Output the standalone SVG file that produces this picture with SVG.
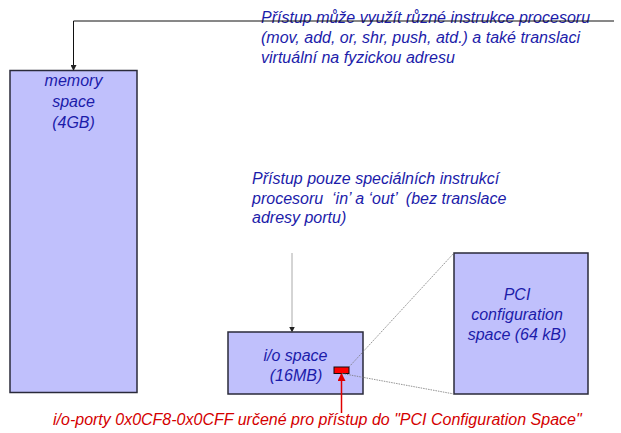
<svg xmlns="http://www.w3.org/2000/svg" width="621" height="433" viewBox="0 0 621 433">
<style>
.box{fill:#c0c0fc;stroke:#2a2a3a;stroke-width:1.5}
.t{font-family:"Liberation Sans",Arial,sans-serif;font-style:italic;font-size:16px;fill:#1c1caa}
.c{text-anchor:middle}
.r{fill:#d40000}
.dot{stroke:#777;stroke-width:0.8;stroke-dasharray:1.5,1;fill:none}
</style>
<defs>
<marker id="ab" markerWidth="6" markerHeight="6" refX="5" refY="3" orient="auto" markerUnits="userSpaceOnUse"><path d="M0,0 L6,3 L0,6 z" fill="#222"/></marker>
<marker id="ar" markerWidth="8" markerHeight="8" refX="7" refY="4" orient="auto" markerUnits="userSpaceOnUse"><path d="M0,0 L8,4 L0,8 z" fill="#e00000"/></marker>
</defs>
<rect width="621" height="433" fill="#fff"/>
<g id="memory">
<rect class="box" x="10" y="70.5" width="127" height="322"/>
<text class="t c" x="73.5" y="86">memory</text>
<text class="t c" x="73.5" y="107">space</text>
<text class="t c" x="73.5" y="128">(4GB)</text>
</g>
<g id="io">
<rect class="box" x="228" y="332" width="135" height="62"/>
<text class="t c" x="295.5" y="361">i/o space</text>
<text class="t c" x="296" y="381">(16MB)</text>
<rect x="334" y="367" width="15" height="6.5" fill="#ff0000" stroke="#111" stroke-width="1"/>
</g>
<g id="pci">
<rect class="box" x="454" y="253" width="134" height="141"/>
<text class="t c" x="517" y="300">PCI</text>
<text class="t c" x="517" y="320">configuration</text>
<text class="t c" x="517" y="340">space (64 kB)</text>
</g>
<g id="labels">
<text class="t" x="261" y="23">Přístup může využít různé instrukce procesoru</text>
<text class="t" x="261" y="43">(mov, add, or, shr, push, atd.) a také translaci</text>
<text class="t" x="261" y="62.5">virtuální na fyzickou adresu</text>
<text class="t" x="252" y="184">Přístup pouze speciálních instrukcí</text>
<text class="t" x="252" y="204" style="white-space:pre">procesoru  ‘in’ a ‘out’  (bez translace</text>
<text class="t" x="252" y="223">adresy portu)</text>
<text class="t r" x="53" y="425">i/o-porty 0x0CF8-0x0CFF určené pro přístup do "PCI Configuration Space"</text>
</g>
<g id="connectors">
<polyline points="614,21 73.5,21 73.5,70" fill="none" stroke="#111" stroke-width="1" marker-end="url(#ab)"/>
<line x1="292" y1="253" x2="292" y2="331.5" stroke="#aaa" stroke-width="1" marker-end="url(#ab)"/>
<line x1="341.5" y1="413" x2="341.5" y2="374" stroke="#e00000" stroke-width="1.5" marker-end="url(#ar)"/>
<line class="dot" x1="349" y1="367" x2="454" y2="253"/>
<line class="dot" x1="342" y1="373.5" x2="454" y2="394"/>
</g>
</svg>
